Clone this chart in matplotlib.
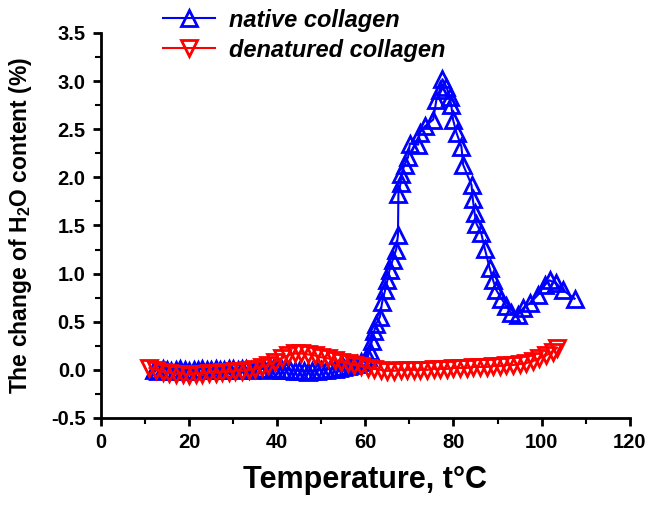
import matplotlib
matplotlib.use("Agg")
import matplotlib.pyplot as plt
from matplotlib.ticker import MultipleLocator

plt.rcParams["font.family"] = ["Liberation Sans", "DejaVu Sans"]
plt.rcParams["mathtext.fontset"] = "custom"
plt.rcParams["mathtext.rm"] = "Liberation Sans:bold"
plt.rcParams["mathtext.it"] = "Liberation Sans:bold"
plt.rcParams["mathtext.bf"] = "Liberation Sans:bold"

# native collagen (blue, up triangles)
native_t = [12, 13, 14, 15, 16, 17, 18, 19, 20, 21, 22, 23, 24, 25, 26, 27, 28,
            29, 30, 31, 32, 33, 34, 35, 36, 37, 38, 39, 40, 41, 42, 43, 44, 45,
            46, 47, 48, 49, 50, 51, 52, 53, 54, 55, 56, 57, 58, 59, 60, 60.5,
            61, 61.5, 62, 62.5, 63.3, 63.8, 64.5, 65, 65.5, 66.2, 67, 67.4,
            67.5, 68, 68.2, 68.9, 69.7, 70.1, 72, 72.3, 73.5, 75.4, 76.1, 76.9,
            77.5, 78.4, 79.1, 79.5, 79.9, 80.7, 81.8, 82.2, 84.1, 84.4, 84.8,
            85.2, 86.3, 87.1, 88.2, 89.0, 89.7, 90.9, 92.0, 93.1, 94.6, 95.8,
            97.3, 99.2, 100.7, 101.8, 103.3, 104.8, 107.5]
native_dh2o = [0.0, -0.01, 0.01, 0.0, -0.01, 0.0, 0.01, 0.0, -0.01, 0.0, 0.0,
               0.01, 0.0, 0.0, 0.01, 0.0, 0.0, 0.01, 0.01, 0.0, 0.01, 0.01,
               0.0, 0.01, 0.01, 0.01, 0.0, 0.01, 0.01, 0.0, 0.0, 0.0, -0.01,
               -0.01, -0.01, -0.02, -0.01, -0.01, 0.0, 0.0, 0.01, 0.01, 0.02,
               0.03, 0.04, 0.05, 0.06, 0.08, 0.1, 0.13, 0.2, 0.3, 0.4, 0.48,
               0.55, 0.7, 0.83, 0.93, 1.04, 1.14, 1.25, 1.4, 1.83, 1.94, 2.04,
               2.13, 2.21, 2.35, 2.34, 2.46, 2.53, 2.6, 2.8, 2.91, 3.02, 2.94,
               2.84, 2.75, 2.6, 2.46, 2.32, 2.13, 1.92, 1.77, 1.63, 1.52, 1.42,
               1.26, 1.06, 0.93, 0.83, 0.74, 0.66, 0.59, 0.57, 0.64, 0.69,
               0.78, 0.88, 0.93, 0.9, 0.83, 0.74]

# denatured collagen (red, down triangles)
denat_t = [11, 12.5, 14, 15.5, 17, 18.5, 20, 21.5, 23, 24.5, 26, 27.5, 29,
           30.5, 32, 33.5, 35, 36.5, 38, 39.5, 41, 42.5, 44, 45.5, 47, 48.5,
           50, 51.5, 53, 54.5, 56, 57.5, 59, 60.5, 62, 63.5, 65, 66.5, 68,
           69.5, 71, 72.5, 74, 75.5, 77, 78.5, 80, 81.5, 83, 84.5, 86, 87.5,
           89, 90.5, 92, 93.5, 95, 96.5, 98, 99.5, 101, 102.5, 103.5]
denat_dh2o = [0.02, 0.0, -0.02, -0.03, -0.04, -0.04, -0.05, -0.04, -0.04,
              -0.03, -0.03, -0.02, -0.02, -0.01, -0.01, 0.0, 0.01, 0.03, 0.05,
              0.08, 0.12, 0.15, 0.17, 0.17, 0.16, 0.15, 0.13, 0.12, 0.1, 0.08,
              0.07, 0.05, 0.04, 0.02, 0.01, 0.0, -0.01, -0.01, 0.0, 0.0, 0.0,
              0.0, 0.0, 0.01, 0.01, 0.01, 0.02, 0.02, 0.02, 0.03, 0.03, 0.03,
              0.04, 0.04, 0.05, 0.05, 0.06, 0.07, 0.09, 0.12, 0.15, 0.19, 0.23]

fig = plt.figure(figsize=(6.58, 5.05), dpi=100)
ax = fig.add_axes([0.1535, 0.1723, 0.8035, 0.7624])

ax.plot(native_t, native_dh2o, color="#0000ff", marker="^", markersize=11,
        markerfacecolor="none", markeredgewidth=2, linewidth=1.5,
        label="native collagen")
ax.plot(denat_t, denat_dh2o, color="#ff0000", marker="v", markersize=11,
        markerfacecolor="none", markeredgewidth=2, linewidth=1.5,
        label="denatured collagen")

ax.set_xlim(0, 120)
ax.set_ylim(-0.5, 3.5)
ax.xaxis.set_major_locator(MultipleLocator(20))
ax.xaxis.set_minor_locator(MultipleLocator(10))
ax.yaxis.set_major_locator(MultipleLocator(0.5))
ax.yaxis.set_minor_locator(MultipleLocator(0.25))
ax.yaxis.set_major_formatter(lambda v, p: f"{v:.1f}")

for side in ["top", "right"]:
    ax.spines[side].set_visible(False)
for side in ["left", "bottom"]:
    ax.spines[side].set_linewidth(2)
ax.tick_params(which="major", direction="out", length=6, width=2,
               labelsize=14.5, pad=5)
ax.tick_params(which="minor", direction="out", length=4, width=1.5)
for lab in ax.get_xticklabels() + ax.get_yticklabels():
    lab.set_fontweight("bold")

ax.set_xlabel("Temperature, t°C", fontsize=22, fontweight="bold",
              labelpad=9)
ax.set_ylabel("The change of H$_{2}$O content (%)", fontsize=16.5,
              fontweight="bold", labelpad=12)

fig.legend(loc="upper left", bbox_to_anchor=(0.215, 1.025), frameon=False,
           handlelength=2.2, handletextpad=0.6, labelspacing=0.3,
           prop={"size": 17, "weight": "bold", "style": "italic"})

plt.savefig("out.png", dpi=100)
